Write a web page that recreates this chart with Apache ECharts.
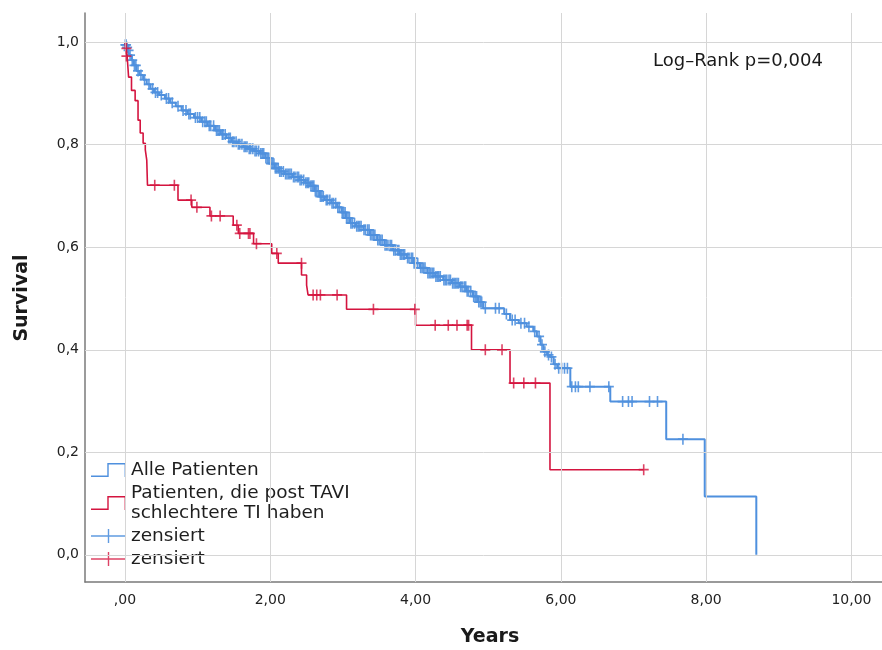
<!DOCTYPE html>
<html>
<head>
<meta charset="utf-8">
<script src="https://cdn.jsdelivr.net/npm/echarts@6/dist/echarts.min.js"></script>
<style>html,body{margin:0;padding:0;background:#fff}#c{width:882px;height:650px}</style>
</head>
<body>
<div id="c"></div>
<script>
// ---- data ----
const xTicks = [0, 2, 4, 6, 8, 10];
const yTicks = [0, 0.2, 0.4, 0.6, 0.8, 1.0];

const seriesNames = ['Alle Patienten', 'Patienten, die post TAVI\nschlechtere TI haben', 'zensiert', 'zensiert\u200b'];

// Kaplan-Meier curve, all patients [years, survival]
const blueCurve = [
  [0.00,1.000],[0.01,0.995],[0.02,0.990],[0.04,0.984],[0.06,0.975],[0.09,0.965],[0.12,0.955],[0.16,0.944],
  [0.20,0.936],[0.25,0.927],[0.30,0.918],[0.35,0.909],[0.40,0.902],[0.47,0.897],[0.55,0.890],[0.62,0.882],
  [0.70,0.875],[0.78,0.867],[0.86,0.860],[0.95,0.853],[1.05,0.845],[1.14,0.837],[1.24,0.828],[1.32,0.820],
  [1.40,0.813],[1.47,0.806],[1.55,0.801],[1.63,0.796],[1.70,0.792],[1.78,0.788],[1.86,0.783],[1.93,0.774],
  [2.00,0.763],[2.06,0.754],[2.12,0.748],[2.20,0.743],[2.31,0.737],[2.40,0.731],[2.48,0.726],[2.55,0.720],
  [2.61,0.710],[2.68,0.699],[2.75,0.692],[2.84,0.686],[2.92,0.678],[2.98,0.668],[3.04,0.657],[3.10,0.647],
  [3.18,0.641],[3.28,0.634],[3.37,0.624],[3.47,0.614],[3.57,0.604],[3.69,0.594],[3.78,0.586],[3.88,0.579],
  [3.97,0.569],[4.06,0.560],[4.16,0.550],[4.27,0.543],[4.38,0.536],[4.50,0.530],[4.61,0.523],[4.70,0.514],
  [4.79,0.504],[4.86,0.493],[4.93,0.481],[5.22,0.470],[5.30,0.458],[5.42,0.452],[5.53,0.445],[5.62,0.436],
  [5.67,0.426],[5.72,0.410],[5.76,0.396],[5.81,0.390],[5.85,0.386],[5.90,0.372],[5.95,0.364],[6.13,0.328],
  [6.68,0.299],[7.45,0.2255],[7.98,0.114],[8.69,0.000]
];

// Kaplan-Meier curve, patients with worse TI post TAVI
const redCurve = [
  [0.00,1.000],[0.01,0.988],[0.03,0.973],[0.05,0.932],[0.09,0.906],[0.14,0.886],[0.18,0.848],[0.21,0.823],
  [0.25,0.803],[0.28,0.790],[0.30,0.770],[0.31,0.721],[0.73,0.692],[0.92,0.678],[1.17,0.661],[1.49,0.643],
  [1.56,0.627],[1.77,0.607],[2.02,0.588],[2.11,0.569],[2.43,0.546],[2.50,0.526],[2.52,0.507],[3.05,0.479],
  [4.00,0.448],[4.77,0.400],[5.30,0.335],[5.85,0.166],[7.14,0.166]
];

// censored observations [years, survival]
const blueCensored = [
  [0.005,0.995],[0.015,0.995],[0.03,0.990],[0.05,0.984],[0.07,0.975],[0.10,0.965],[0.13,0.955],[0.15,0.955],
  [0.18,0.944],[0.22,0.936],[0.27,0.927],[0.33,0.918],[0.38,0.909],[0.42,0.902],[0.45,0.902],[0.50,0.897],
  [0.57,0.890],[0.60,0.890],[0.65,0.882],[0.73,0.875],[0.80,0.867],[0.84,0.867],[0.88,0.860],[0.90,0.860],
  [0.97,0.853],[1.00,0.853],[1.03,0.853],[1.07,0.845],[1.10,0.845],[1.12,0.845],[1.16,0.837],[1.18,0.837],
  [1.22,0.837],[1.26,0.828],[1.28,0.828],[1.30,0.828],[1.34,0.820],[1.35,0.820],[1.38,0.820],[1.43,0.813],
  [1.45,0.813],[1.48,0.806],[1.50,0.806],[1.53,0.806],[1.56,0.801],[1.58,0.801],[1.61,0.801],[1.64,0.796],
  [1.66,0.796],[1.68,0.796],[1.71,0.792],[1.73,0.792],[1.76,0.792],[1.79,0.788],[1.81,0.788],[1.84,0.788],
  [1.87,0.783],[1.89,0.783],[1.91,0.783],[1.94,0.774],[1.96,0.774],[1.98,0.774],[2.01,0.763],[2.03,0.763],
  [2.05,0.763],[2.07,0.754],[2.09,0.754],[2.11,0.754],[2.13,0.748],[2.15,0.748],[2.18,0.748],[2.21,0.743],
  [2.23,0.743],[2.25,0.743],[2.27,0.743],[2.29,0.743],[2.32,0.737],[2.34,0.737],[2.37,0.737],[2.39,0.737],
  [2.41,0.731],[2.43,0.731],[2.46,0.731],[2.49,0.726],[2.51,0.726],[2.53,0.726],[2.56,0.720],[2.58,0.720],
  [2.60,0.720],[2.62,0.710],[2.64,0.710],[2.66,0.710],[2.69,0.699],[2.71,0.699],[2.73,0.699],[2.77,0.692],
  [2.79,0.692],[2.82,0.692],[2.85,0.686],[2.87,0.686],[2.90,0.686],[2.93,0.678],[2.95,0.678],[2.99,0.668],
  [3.01,0.668],[3.03,0.668],[3.05,0.657],[3.07,0.657],[3.09,0.657],[3.11,0.647],[3.13,0.647],[3.16,0.647],
  [3.19,0.641],[3.21,0.641],[3.23,0.641],[3.25,0.641],[3.29,0.634],[3.31,0.634],[3.34,0.634],[3.36,0.634],
  [3.38,0.624],[3.40,0.624],[3.42,0.624],[3.44,0.624],[3.48,0.614],[3.50,0.614],[3.52,0.614],[3.54,0.614],
  [3.58,0.604],[3.60,0.604],[3.62,0.604],[3.65,0.604],[3.67,0.604],[3.70,0.594],[3.72,0.594],[3.75,0.594],
  [3.77,0.594],[3.79,0.586],[3.81,0.586],[3.83,0.586],[3.85,0.586],[3.89,0.579],[3.91,0.579],[3.94,0.579],
  [3.96,0.579],[3.98,0.569],[4.00,0.569],[4.03,0.569],[4.07,0.560],[4.09,0.560],[4.11,0.560],[4.13,0.560],
  [4.17,0.550],[4.19,0.550],[4.21,0.550],[4.23,0.550],[4.25,0.550],[4.28,0.543],[4.30,0.543],[4.32,0.543],
  [4.34,0.543],[4.39,0.536],[4.41,0.536],[4.43,0.536],[4.46,0.536],[4.48,0.536],[4.51,0.530],[4.53,0.530],
  [4.55,0.530],[4.57,0.530],[4.59,0.530],[4.62,0.523],[4.64,0.523],[4.67,0.523],[4.69,0.523],[4.71,0.514],
  [4.73,0.514],[4.76,0.514],[4.80,0.504],[4.82,0.504],[4.84,0.504],[4.87,0.493],[4.89,0.493],[4.91,0.493],
  [4.96,0.481],[5.10,0.481],[5.15,0.481],[5.25,0.470],[5.33,0.458],[5.37,0.458],[5.45,0.452],[5.50,0.452],
  [5.56,0.445],[5.64,0.436],[5.70,0.426],[5.74,0.410],[5.78,0.396],[5.83,0.390],[5.87,0.386],[5.92,0.372],
  [5.97,0.364],[6.01,0.364],[6.05,0.364],[6.09,0.364],
  [6.15,0.328],[6.20,0.328],[6.24,0.328],[6.40,0.328],[6.66,0.328],
  [6.85,0.299],[6.93,0.299],[6.98,0.299],[7.22,0.299],[7.33,0.299],[7.68,0.2255]
];

const redCensored = [
  [0.02,0.988],[0.02,0.973],[0.41,0.721],[0.68,0.721],[0.91,0.692],[0.99,0.678],[1.19,0.661],[1.31,0.661],
  [1.54,0.643],[1.58,0.627],[1.70,0.627],[1.72,0.627],[1.81,0.607],[2.09,0.588],[2.43,0.569],
  [2.59,0.507],[2.64,0.507],[2.69,0.507],[2.92,0.507],[3.42,0.479],[3.99,0.479],
  [4.27,0.448],[4.45,0.448],[4.57,0.448],[4.71,0.448],[4.73,0.448],[4.96,0.400],[5.19,0.400],
  [5.35,0.335],[5.49,0.335],[5.65,0.335],[7.14,0.166]
];

// ---- styles ----
const BLUE = '#4f90de';
const RED = '#d4143f';
const FONT = 'DejaVu Sans';
const plusPath = 'path://M4.2,0H5.8V4.2H10V5.8H5.8V10H4.2V5.8H0V4.2H4.2Z';
const stepIcon = 'path://M0,12.6H16.3V0H35V14H33.6V1.4H17.7V14H0Z';
const crossIcon = 'path://M0,6.3H16.8V0H18.2V6.3H35V7.7H18.2V14H16.8V7.7H0Z';

const fmtX = v => v === 0 ? ',00' : v.toFixed(2).replace('.', ',');
const fmtY = v => v.toFixed(1).replace('.', ',');

const chart = echarts.init(document.getElementById('c'), null, {renderer: 'canvas'});
chart.setOption({
  animation: false,
  backgroundColor: '#ffffff',
  grid: {left: 85, right: 0, top: 13, bottom: 68, containLabel: false},
  xAxis: {
    type: 'value', min: -0.55, max: 10.42,
    splitLine: {show: false}, axisTick: {show: false},
    axisLine: {show: true, onZero: false, lineStyle: {color: '#7a7a7a', width: 1.5}},
    axisLabel: {customValues: xTicks, formatter: fmtX, margin: 11, fontSize: 14, color: '#222', fontFamily: FONT}
  },
  yAxis: {
    type: 'value', min: -0.053, max: 1.057,
    splitLine: {show: false}, axisTick: {show: false},
    axisLine: {show: true, onZero: false, lineStyle: {color: '#7a7a7a', width: 1.5}},
    axisLabel: {customValues: yTicks, formatter: fmtY, margin: 6, fontSize: 14, color: '#222', fontFamily: FONT}
  },
  legend: {
    orient: 'vertical', left: 91, top: 460, itemGap: 3, padding: 0,
    itemWidth: 35, itemHeight: 14,
    selectedMode: false,
    textStyle: {fontSize: 18.5, lineHeight: 20, color: '#1e1e1e', fontFamily: FONT},
    formatter: n => n.replace('\u200b', ''),
    data: [
      {name: seriesNames[0], icon: stepIcon},
      {name: seriesNames[1], icon: stepIcon},
      {name: seriesNames[2], icon: crossIcon},
      {name: seriesNames[3], icon: crossIcon}
    ]
  },
  graphic: [
    {type: 'text', x: 22, y: 298, rotation: Math.PI / 2,
     style: {text: 'Survival', fontFamily: FONT, fontWeight: 'bold', fontSize: 19, fill: '#1a1a1a', align: 'center', verticalAlign: 'middle'}},
    {type: 'text', x: 490, y: 637,
     style: {text: 'Years', fontFamily: FONT, fontWeight: 'bold', fontSize: 19, fill: '#1a1a1a', align: 'center', verticalAlign: 'middle'}},
    {type: 'text', x: 653, y: 61,
     style: {text: 'Log\u2013Rank p=0,004', fontFamily: FONT, fontSize: 18, fill: '#1a1a1a', align: 'left', verticalAlign: 'middle'}}
  ],
  series: [
    {
      type: 'line', name: 'grid', data: [], z: 0, silent: true,
      markLine: {
        silent: true, symbol: ['none', 'none'], label: {show: false}, animation: false,
        lineStyle: {color: '#d6d6d6', width: 1, type: 'solid'},
        emphasis: {disabled: true},
        data: xTicks.map(v => ({xAxis: v})).concat(yTicks.map(v => ({yAxis: v})))
      }
    },
    {
      type: 'line', name: seriesNames[0], data: blueCurve, step: 'end', showSymbol: false, z: 3,
      color: BLUE, lineStyle: {color: BLUE, width: 2}, itemStyle: {color: BLUE}
    },
    {
      type: 'line', name: seriesNames[1], data: redCurve, step: 'end', showSymbol: false, z: 4,
      color: RED, lineStyle: {color: RED, width: 1.6}, itemStyle: {color: RED}
    },
    {
      type: 'scatter', name: seriesNames[2], data: blueCensored, symbol: plusPath, symbolSize: [10, 11], z: 3,
      itemStyle: {color: BLUE, opacity: 0.9}
    },
    {
      type: 'scatter', name: seriesNames[3], data: redCensored, symbol: plusPath, symbolSize: [10, 11], z: 5,
      itemStyle: {color: RED}
    }
  ]
});
</script>
</body>
</html>
